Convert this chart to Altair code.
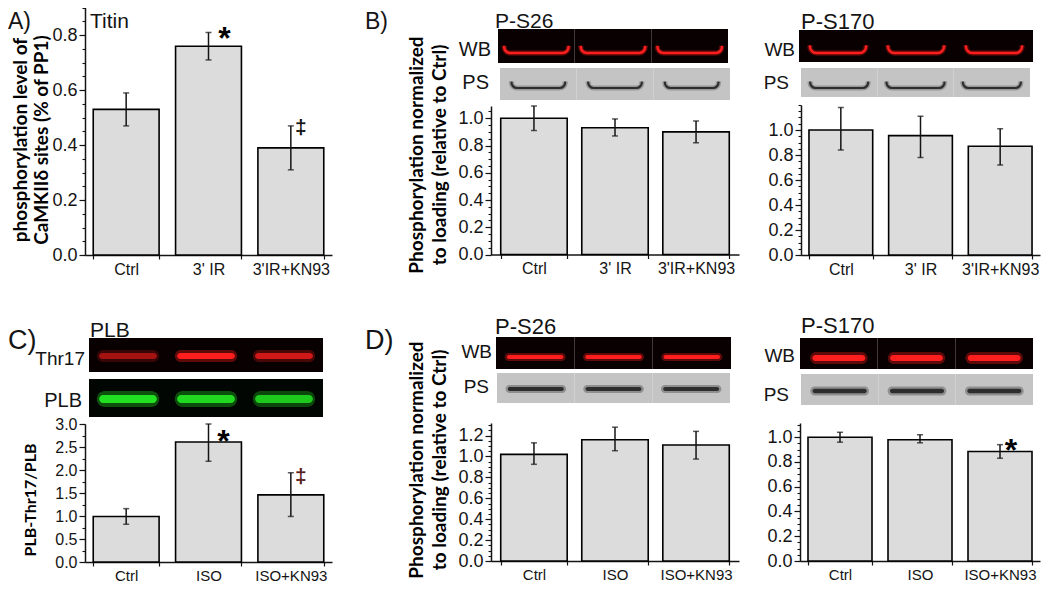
import altair as alt
import pandas as pd

# ---------------- data ----------------
cats_ir = ["Ctrl", "3' IR", "3'IR+KN93"]
cats_iso = ["Ctrl", "ISO", "ISO+KN93"]

titin_val = [0.53, 0.76, 0.39]
titin_lo = [0.47, 0.71, 0.31]
titin_hi = [0.59, 0.81, 0.47]
titin_ann = ["", "*", "\u2021"]

b26_val = [1.00, 0.93, 0.90]
b26_lo = [0.91, 0.87, 0.82]
b26_hi = [1.09, 0.995, 0.98]
b26_ann = ["", "", ""]

b170_val = [1.00, 0.955, 0.87]
b170_lo = [0.84, 0.78, 0.72]
b170_hi = [1.18, 1.11, 1.01]
b170_ann = ["", "", ""]

plb_val = [0.99, 2.61, 1.46]
plb_lo = [0.82, 2.19, 0.99]
plb_hi = [1.16, 3.00, 1.94]
plb_ann = ["", "*", "\u2021"]

d26_val = [1.02, 1.16, 1.11]
d26_lo = [0.925, 1.055, 0.975]
d26_hi = [1.13, 1.28, 1.24]
d26_ann = ["", "", ""]

d170_val = [1.00, 0.98, 0.885]
d170_lo = [0.96, 0.955, 0.83]
d170_hi = [1.04, 1.02, 0.94]
d170_ann = ["", "", "*"]

# relative band intensities of the blot lanes
thr17_int = [0.55, 1.0, 0.75]
plbblot_int = [1.0, 0.95, 0.85]
even_int = [1.0, 1.0, 1.0]

# ---------------- layout helpers ----------------
OX, OY = 8, 8
W, H = 1034, 576
FONT = "Liberation Sans"
TFONT = "Lato"
INK = "#141414"
BARFILL = "#dcdcdc"


def X(v):
    return v - OX


def Y(v):
    return v - OY


def steps(top, step):
    n = int(round(top / step + 1e-6))
    return [round(i * step, 4) for i in range(n + 1) if i * step <= top + 1e-9]


def make_panel(cats, val, lo, hi, ann, xr, yr, dom, major, minor, maxlab, lab_size,
               pin, pout, xlab_size=16, star=(0, 0), dag=(0, 0), dag_color=INK):
    df = pd.DataFrame({"cat": cats, "val": val, "lo": lo, "hi": hi, "ann": ann})

    def xs():
        return alt.Scale(domain=cats, range=[X(xr[0]), X(xr[1])], paddingInner=pin, paddingOuter=pout)

    def ys():
        return alt.Scale(domain=list(dom), range=[Y(yr[0]), Y(yr[1])], nice=False, zero=False)

    yax = alt.Axis(
        orient="left", offset=-X(xr[0]), values=steps(maxlab, major), grid=False, format=".1f",
        tickSize=6, tickColor=INK, tickWidth=1.2, domainColor=INK, domainWidth=1.5,
        labelFont=FONT, labelFontSize=lab_size, labelColor=INK, labelPadding=2,
        labelOverlap=False, labelFlush=False, title=None,
    )
    xax = alt.Axis(orient="bottom", offset=Y(yr[0]) - H, tickBand="extent", title=None, grid=False,
                   tickSize=4, tickColor=INK, tickWidth=1.2, domainColor=INK, domainWidth=1.5,
                   labelFont=FONT, labelFontSize=xlab_size, labelColor=INK, labelAngle=0,
                   labelPadding=2)

    def xe():
        return alt.X("cat:N", scale=xs(), sort=None, axis=None, title=None)

    def ye(field):
        return alt.Y(field, scale=ys(), axis=None, title=None)

    base = alt.Chart(df)
    bars = base.mark_bar(fill=BARFILL, stroke="#000000", strokeWidth=1.6).encode(
        x=alt.X("cat:N", scale=xs(), sort=None, axis=xax),
        y=alt.Y("val:Q", scale=ys(), axis=yax),
    )
    err = base.mark_rule(color=INK, strokeWidth=1.5).encode(x=xe(), y=ye("lo:Q"), y2="hi:Q")
    cap_lo = base.mark_tick(color=INK, thickness=1.5, size=6).encode(x=xe(), y=ye("lo:Q"))
    cap_hi = base.mark_tick(color=INK, thickness=1.5, size=6).encode(x=xe(), y=ye("hi:Q"))
    st = base.transform_filter("datum.ann == '*'").mark_text(
        font=FONT, fontSize=32, fontWeight="bold", color="#000000", baseline="alphabetic",
        align="center", dx=star[0], dy=star[1]).encode(x=xe(), y=ye("hi:Q"), text="ann:N")
    dg = base.transform_filter("datum.ann == '\u2021'").mark_text(
        font=FONT, fontSize=21, fontWeight="bold", color=dag_color, baseline="alphabetic",
        align="center", dx=dag[0], dy=dag[1]).encode(x=xe(), y=ye("hi:Q"), text="ann:N")
    # minor ticks: a second, label-less axis on the same scale
    minor_ax = alt.Axis(orient="left", offset=-X(xr[0]), values=steps(dom[1], minor), labels=False,
                        domain=False, grid=False, tickSize=3, tickColor=INK, tickWidth=1.1, title=None)
    minor_layer = base.mark_point(opacity=0).encode(
        y=alt.Y("val:Q", scale=ys(), axis=minor_ax))
    return [minor_layer, bars, err, cap_lo, cap_hi, st, dg]


def lane_x(cats, x0, x1):
    return alt.X("lane:N", sort=None, axis=None, title=None,
                 scale=alt.Scale(domain=cats, range=[X(x0), X(x1)], paddingInner=0, paddingOuter=0))


def blot_u(cats, inten, x0, x1, y0, y1, bg, yt, yb, w, color, sw=2.5):
    df = pd.DataFrame({"lane": cats, "intensity": inten})
    base = alt.Chart(df)
    xe = lane_x(cats, x0, x1)
    r = (yb - yt) * 0.9
    frame = base.mark_bar(color=bg, width=alt.RelativeBandSize(1.0)).encode(
        x=xe, y=alt.value(Y(y0)), y2=alt.value(Y(y1)))
    ub = dict(x=xe, y=alt.value(Y(yt)), y2=alt.value(Y(yb)))
    glow = base.mark_bar(fillOpacity=0, stroke=color, strokeWidth=sw + 3, strokeOpacity=0.3,
                         cornerRadiusBottomLeft=r, cornerRadiusBottomRight=r,
                         width=alt.RelativeBandSize(w)).encode(**ub)
    core = base.mark_bar(fillOpacity=0, stroke=color, strokeWidth=sw,
                         cornerRadiusBottomLeft=r, cornerRadiusBottomRight=r,
                         width=alt.RelativeBandSize(w)).encode(**ub)
    mask = base.mark_bar(color=bg, width=alt.RelativeBandSize(min(w + 0.1, 1.0))).encode(
        x=xe, y=alt.value(Y(yt - 4)), y2=alt.value(Y(yt + (yb - yt) * 0.4)))
    return alt.layer(frame, glow, core, mask)


def blot_blob(cats, inten, x0, x1, y0, y1, bg, yc, h, w, color):
    df = pd.DataFrame({"lane": cats, "intensity": inten})
    base = alt.Chart(df).transform_calculate(glow="datum.intensity * 0.35")
    xe = lane_x(cats, x0, x1)
    frame = base.mark_bar(color=bg, width=alt.RelativeBandSize(1.0)).encode(
        x=xe, y=alt.value(Y(y0)), y2=alt.value(Y(y1)))
    outer = base.mark_bar(color=color, cornerRadius=h, width=alt.RelativeBandSize(w)).encode(
        x=xe, y=alt.value(Y(yc - h)), y2=alt.value(Y(yc + h)),
        opacity=alt.Opacity("glow:Q", scale=None))
    inner = base.mark_bar(color=color, cornerRadius=h / 2, width=alt.RelativeBandSize(w - 0.06)).encode(
        x=xe, y=alt.value(Y(yc - h / 2)), y2=alt.value(Y(yc + h / 2)),
        opacity=alt.Opacity("intensity:Q", scale=None))
    return alt.layer(frame, outer, inner)


def label(text, x, y, size, align="left", weight="normal", font=FONT, color=INK):
    # y is the text baseline (page pixels)
    return alt.Chart(alt.Data(values=[{}])).mark_text(
        text=text, align=align, baseline="alphabetic", fontSize=size, fontWeight=weight,
        font=font, color=color).encode(x=alt.value(X(x)), y=alt.value(Y(y)))


def vtitle(text, x, y, size):
    # rotated axis title line, centred on (x, y) in page pixels
    return alt.Chart(alt.Data(values=[{}])).mark_text(
        text=text, angle=270, align="center", baseline="middle", fontSize=size,
        fontWeight="bold", font=TFONT, color="#000000").encode(x=alt.value(X(x)), y=alt.value(Y(y)))


RED = "#ff1e1e"
GREEN = "#22e022"
PSBG = "#c4c4c4"
PSBAND = "#2e2e2e"
WBBG = "#090101"

layers = []

# ---------------- panels ----------------
layers += make_panel(cats_ir, titin_val, titin_lo, titin_hi, titin_ann,
                     xr=(85, 332), yr=(255, 5), dom=(0, 0.91), major=0.2, minor=0.05,
                     maxlab=0.8, lab_size=18, pin=0.2, pout=0.1, star=(16, 17), dag=(10, 8))
layers += make_panel(cats_ir, b26_val, b26_lo, b26_hi, b26_ann,
                     xr=(491, 739), yr=(254.5, 106), dom=(0, 1.09), major=0.2, minor=0.05,
                     maxlab=1.0, lab_size=18, pin=0.18, pout=0.12)
layers += make_panel(cats_ir, b170_val, b170_lo, b170_hi, b170_ann,
                     xr=(801, 1040), yr=(255, 105), dom=(0, 1.2), major=0.2, minor=0.05,
                     maxlab=1.0, lab_size=18, pin=0.2, pout=0.1)
layers += make_panel(cats_iso, plb_val, plb_lo, plb_hi, plb_ann,
                     xr=(85, 332), yr=(562, 424), dom=(0, 3.0), major=0.5, minor=0.25,
                     maxlab=3.0, lab_size=16, pin=0.2, pout=0.1, xlab_size=15,
                     star=(15, 28), dag=(10, 10), dag_color="#5a1c1c")
layers += make_panel(cats_iso, d26_val, d26_lo, d26_hi, d26_ann,
                     xr=(491, 739), yr=(561, 423), dom=(0, 1.32), major=0.2, minor=0.05,
                     maxlab=1.2, lab_size=18, pin=0.18, pout=0.12, xlab_size=15)
layers += make_panel(cats_iso, d170_val, d170_lo, d170_hi, d170_ann,
                     xr=(800, 1040), yr=(561, 423), dom=(0, 1.115), major=0.2, minor=0.05,
                     maxlab=1.0, lab_size=18, pin=0.2, pout=0.1, xlab_size=15, star=(11, 16))

# ---------------- blots ----------------
layers.append(blot_u(cats_ir, even_int, 498, 728, 29, 63, WBBG, 41, 53, 0.84, RED))
layers.append(blot_u(cats_ir, even_int, 500, 730, 68, 100, PSBG, 77, 88, 0.7, PSBAND, sw=2.2))
layers.append(blot_u(cats_ir, even_int, 799, 1033, 30, 62, WBBG, 40, 53, 0.72, RED))
layers.append(blot_u(cats_ir, even_int, 801, 1030, 68, 97, PSBG, 77, 88, 0.76, PSBAND, sw=2.2))
layers.append(blot_blob(cats_iso, thr17_int, 89, 323, 338, 372, WBBG, 356, 6, 0.8, RED))
layers.append(blot_blob(cats_iso, plbblot_int, 89, 323, 379, 417, "#020602", 399, 8, 0.8, GREEN))
layers.append(blot_blob(cats_iso, even_int, 496, 731, 337, 369, WBBG, 357, 4, 0.78, RED))
layers.append(blot_blob(cats_iso, even_int, 497, 730, 373, 403, PSBG, 389, 4, 0.78, PSBAND))
layers.append(blot_blob(cats_iso, even_int, 800, 1033, 338, 369, WBBG, 358, 6, 0.74, RED))
layers.append(blot_blob(cats_iso, even_int, 801, 1033, 374, 405, PSBG, 391, 4.5, 0.76, PSBAND))

# ---------------- y-axis titles ----------------
layers += [
    vtitle("phosphorylation level of", 21, 140, 19),
    vtitle("CaMKII\u03b4 sites (% of PP1)", 42, 140, 19),
    vtitle("Phosphorylation normalized", 417, 155, 19),
    vtitle("to loading (relative to Ctrl)", 440, 155, 19),
    vtitle("PLB-Thr17/PLB", 31, 500, 16),
    vtitle("Phosphorylation normalized", 417, 460, 19),
    vtitle("to loading (relative to Ctrl)", 440, 460, 19),
]

# ---------------- text labels (baselines in page pixels) ----------------
layers += [
    label("A)", 8, 29, 23),
    label("B)", 365, 29, 23),
    label("C)", 8, 349, 27),
    label("D)", 365, 349, 27),
    label("Titin", 90, 28, 21),
    label("P-S26", 495, 28, 21),
    label("P-S170", 801, 29, 22),
    label("WB", 491, 56, 20, align="right"),
    label("PS", 489, 89, 20, align="right"),
    label("WB", 795, 56, 19, align="right"),
    label("PS", 789, 89, 19, align="right"),
    label("PLB", 90, 337, 21),
    label("Thr17", 85, 365, 19, align="right"),
    label("PLB", 82, 407, 20, align="right"),
    label("P-S26", 495, 334, 22),
    label("WB", 492, 358, 19, align="right"),
    label("PS", 489, 393, 19, align="right"),
    label("P-S170", 801, 333, 22),
    label("WB", 795, 362, 19, align="right"),
    label("PS", 789, 401, 19, align="right"),
]

chart = (
    alt.layer(*layers)
    .resolve_scale(x="independent", y="independent")
    .resolve_axis(x="independent", y="independent")
    .properties(width=W, height=H, padding=0, autosize=alt.AutoSizeParams(type="none"),
                background="#ffffff")
    .configure_view(stroke=None)
)

chart.save("out.html", embed_options={"renderer": "svg", "actions": False})
